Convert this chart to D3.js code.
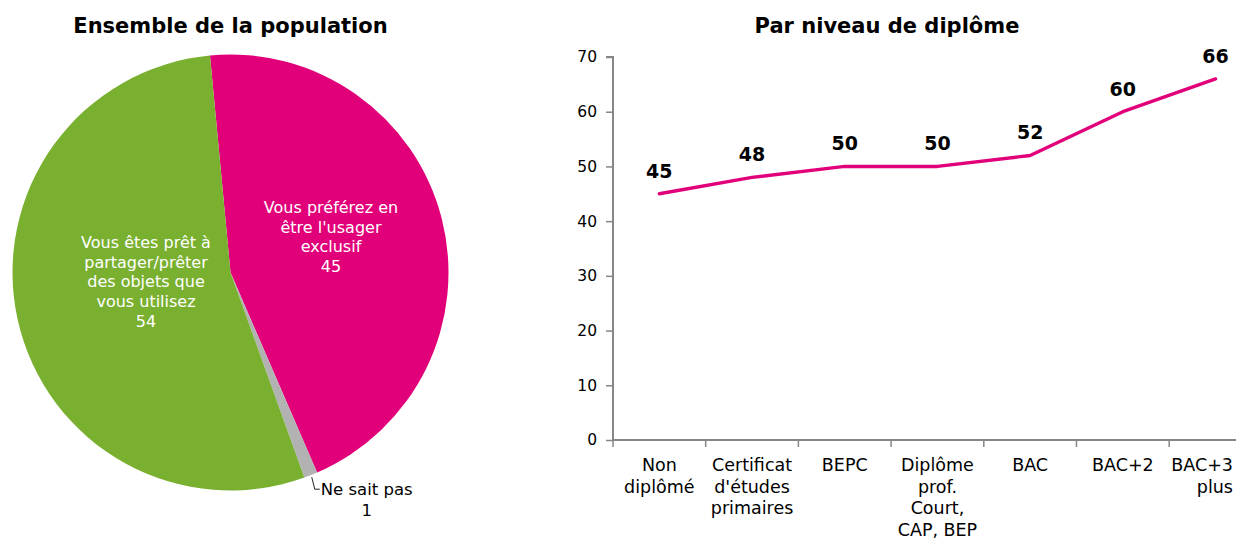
<!DOCTYPE html>
<html>
<head>
<meta charset="utf-8">
<script src="https://cdn.jsdelivr.net/npm/d3@7/dist/d3.min.js"></script>
<style>
  html, body { margin: 0; padding: 0; background: #fff; }
  svg { display: block; font-family: "DejaVu Sans", Verdana, sans-serif; }
</style>
</head>
<body>
<svg id="chart" width="1236" height="539"></svg>
<script>
// Pie: attitude towards sharing objects (whole population)
const pieLabels = [
  ["Vous préférez en", "être l'usager", "exclusif"],
  ["Ne sait pas"],
  ["Vous êtes prêt à", "partager/prêter", "des objets que", "vous utilisez"]
];
const pieValues = [45, 1, 54];
const pieColors = ["#E2007A", "#B2B2B2", "#7AB030"];

// Line: share of people preferring exclusive use, by education level
const levels = [
  ["Non", "diplômé"],
  ["Certificat", "d'études", "primaires"],
  ["BEPC"],
  ["Diplôme", "prof.", "Court,", "CAP, BEP"],
  ["BAC"],
  ["BAC+2"],
  ["BAC+3", "plus"]
];
const levelValues = [45, 48, 50, 50, 52, 60, 66];
const yTicks = [0, 10, 20, 30, 40, 50, 60, 70];

const svg = d3.select("#chart");

// ---------- Pie ----------
const cx = 230.5, cy = 272.5, r = 218;
const startA = -5.4 * Math.PI / 180;
const pie = d3.pie().sort(null).startAngle(startA).endAngle(startA + 2 * Math.PI);
const arcs = pie(pieValues);
const arc = d3.arc().innerRadius(0).outerRadius(r);

const gPie = svg.append("g").attr("transform", `translate(${cx},${cy})`);
gPie.selectAll("path").data(arcs).join("path")
  .attr("d", arc)
  .attr("fill", (d, i) => pieColors[i]);

svg.append("text")
  .attr("x", cx).attr("y", 33)
  .attr("text-anchor", "middle")
  .attr("font-size", 21).attr("font-weight", "bold")
  .text("Ensemble de la population");

// inside labels (white, centred, value on the last line)
const insideLabel = (i, px, py) => {
  const lines = pieLabels[i].concat([String(pieValues[i])]);
  const t = gPie.append("text")
    .attr("text-anchor", "middle")
    .attr("fill", "#fff")
    .attr("font-size", 16);
  lines.forEach((s, k) => {
    t.append("tspan").attr("x", px).attr("y", py + k * 19.7).text(s);
  });
};
insideLabel(0, 100.5, -59.5);
insideLabel(2, -84.5, -24.5);

// outside label for the small slice with a leader line
{
  const a = (arcs[1].startAngle + arcs[1].endAngle) / 2;
  const ex = Math.sin(a) * r, ey = -Math.cos(a) * r;
  gPie.append("path")
    .attr("d", `M${ex + 1},${ey + 2} L${ex + 4},${ey + 14} L${ex + 9},${ey + 14}`)
    .attr("fill", "none").attr("stroke", "#222").attr("stroke-width", 1);
  const t = gPie.append("text")
    .attr("text-anchor", "middle")
    .attr("fill", "#000")
    .attr("font-size", 16.5);
  t.append("tspan").attr("x", ex + 56).attr("y", ey + 19.5).text(pieLabels[1][0]);
  t.append("tspan").attr("x", ex + 56).attr("y", ey + 40.5).text(String(pieValues[1]));
}

// ---------- Line chart ----------
const x0 = 613, yBottom = 440, yTop = 57;
const band = 92.7;
const x = d3.scaleBand().domain(d3.range(levels.length)).range([x0, x0 + band * levels.length]).padding(0);
const y = d3.scaleLinear().domain([0, 70]).range([yBottom, yTop]);
const axisColor = "#868686";

svg.append("text")
  .attr("x", 887).attr("y", 33)
  .attr("text-anchor", "middle")
  .attr("font-size", 21).attr("font-weight", "bold")
  .text("Par niveau de diplôme");

// y axis
const yAxis = d3.axisLeft(y).tickValues(yTicks).tickSize(7).tickPadding(9).tickFormat(d3.format("d"));
const gy = svg.append("g").attr("transform", `translate(${x0},0)`).call(yAxis);
gy.select(".domain").attr("stroke", axisColor).attr("stroke-width", 2).attr("d", `M-7,${yTop}H0V${yBottom}`);
gy.selectAll(".tick line").attr("stroke", axisColor).attr("stroke-width", 1.5);
gy.selectAll(".tick text").attr("fill", "#000").attr("font-size", 15.5)
  .attr("font-family", "DejaVu Sans, Verdana, sans-serif");

// x axis: baseline with ticks at band edges
const gx = svg.append("g");
gx.append("line")
  .attr("x1", x0).attr("x2", x0 + band * levels.length)
  .attr("y1", yBottom).attr("y2", yBottom)
  .attr("stroke", axisColor).attr("stroke-width", 2);
gx.selectAll("line.tk").data(d3.range(levels.length + 1)).join("line")
  .attr("class", "tk")
  .attr("x1", i => x0 + i * x.bandwidth()).attr("x2", i => x0 + i * x.bandwidth())
  .attr("y1", yBottom).attr("y2", yBottom + 7)
  .attr("stroke", axisColor).attr("stroke-width", 1.5);

// category labels, kept inside the right edge
const maxRight = 1233;
levels.forEach((lines, i) => {
  const cxl = x(i) + x.bandwidth() / 2;
  const t = gx.append("text")
    .attr("text-anchor", "middle")
    .attr("font-size", 17.5)
    .attr("fill", "#000");
  lines.forEach((s, k) => {
    t.append("tspan").attr("x", cxl).attr("y", 471 + k * 21.7).text(s);
  });
  const bb = t.node().getBBox();
  if (bb.x + bb.width > maxRight) {
    t.attr("text-anchor", "end");
    t.selectAll("tspan").attr("x", maxRight);
  }
});

// series line
const line = d3.line()
  .x((d, i) => x(i) + x.bandwidth() / 2)
  .y(d => y(d));
svg.append("path")
  .datum(levelValues)
  .attr("d", line)
  .attr("fill", "none")
  .attr("stroke", "#E2007A")
  .attr("stroke-width", 3.4)
  .attr("stroke-linejoin", "round")
  .attr("stroke-linecap", "round");

// value labels
svg.selectAll("text.val").data(levelValues).join("text")
  .attr("class", "val")
  .attr("x", (d, i) => x(i) + x.bandwidth() / 2)
  .attr("y", d => y(d) - 16)
  .attr("text-anchor", "middle")
  .attr("font-size", 19).attr("font-weight", "bold")
  .text(d => d);
</script>
</body>
</html>
